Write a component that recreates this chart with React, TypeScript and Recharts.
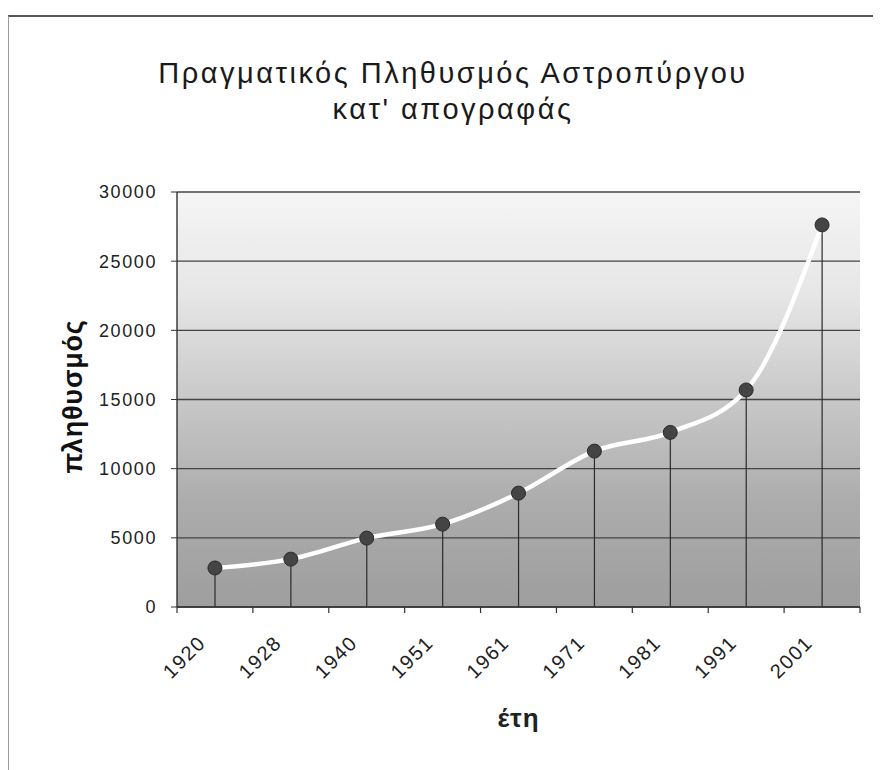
import React from 'react';
import { ComposedChart, Line, Bar, XAxis, YAxis, CartesianGrid, Label } from 'recharts';

const years = ['1920', '1928', '1940', '1951', '1961', '1971', '1981', '1991', '2001'];
const population = [2820, 3460, 4980, 5990, 8230, 11270, 12620, 15690, 27620];
const yTicks = [0, 5000, 10000, 15000, 20000, 25000, 30000];
const titleLines = ['Πραγματικός Πληθυσμός Αστροπύργου', "κατ' απογραφάς"];
const yTitle = 'πληθυσμός';
const xTitle = 'έτη';

const data = years.map((year, i) => ({ year, pop: population[i] }));

const FONT = '"Liberation Sans", Arial, Helvetica, sans-serif';

const DropLine = (props: any) => {
  const { x, y, width, height } = props;
  if (x == null || height == null) return null;
  const cx = x + width / 2;
  return <line x1={cx} x2={cx} y1={y} y2={y + height} stroke="#2b2b2b" strokeWidth={1.2} />;
};

const XTick = (props: any) => {
  const { x, y, payload, index } = props;
  const off = payload && payload.offset ? payload.offset : 38;
  const ax = x - 8;
  const ay = y + 31;
  return (
    <g>
      <line x1={x - off} x2={x - off} y1={y - 6} y2={y} stroke="#333" strokeWidth={1.2} />
      {index === years.length - 1 && (
        <line x1={x + off} x2={x + off} y1={y - 6} y2={y} stroke="#333" strokeWidth={1.2} />
      )}
      <text
        x={ax}
        y={ay}
        transform={`rotate(-45 ${ax} ${ay})`}
        textAnchor="end"
        fontSize={20}
        letterSpacing={1.5}
        fill="#222"
        fontFamily={FONT}
      >
        {payload.value}
      </text>
    </g>
  );
};

export default function App() {
  return (
    <div style={{ position: 'relative', width: 873, height: 762, background: '#fff' }}>
      <div
        style={{
          position: 'absolute',
          top: 7,
          left: 0,
          width: 873,
          height: 755,
          borderTop: '2px solid #555',
          borderLeft: '1px solid #999',
          boxSizing: 'border-box',
        }}
      />
      <ComposedChart
        width={873}
        height={762}
        data={data}
        margin={{ top: 184, right: 21, bottom: 63, left: 79 }}
        style={{ position: 'absolute', top: 0, left: 0 }}
      >
        <defs>
          <linearGradient id="plotBg" x1="0" y1="0" x2="0" y2="1">
            <stop offset="0%" stopColor="#f5f5f5" />
            <stop offset="25%" stopColor="#e6e6e6" />
            <stop offset="50%" stopColor="#c8c8c8" />
            <stop offset="75%" stopColor="#acacac" />
            <stop offset="100%" stopColor="#9e9e9e" />
          </linearGradient>
        </defs>
        <CartesianGrid
          vertical={false}
          fill="url(#plotBg)"
          stroke="#444"
          strokeWidth={1.4}
          fillOpacity={1}
        />
        <XAxis
          dataKey="year"
          interval={0}
          height={100}
          tickSize={6}
          tickMargin={0}
          tickLine={false}
          axisLine={{ stroke: '#333', strokeWidth: 1.4 }}
          tick={<XTick />}
        >
          <Label
            content={(p: any) => {
              const vb = p.viewBox;
              return (
                <text
                  x={vb.x + vb.width / 2}
                  y={vb.y + 120}
                  textAnchor="middle"
                  fontSize={26}
                  fontWeight="bold"
                  letterSpacing={1}
                  fill="#222"
                  fontFamily={FONT}
                >
                  {xTitle}
                </text>
              );
            }}
          />
        </XAxis>
        <YAxis
          type="number"
          domain={[0, 30000]}
          ticks={yTicks}
          interval={0}
          width={90}
          tickSize={6}
          tickMargin={14}
          tickLine={{ stroke: '#333' }}
          axisLine={{ stroke: '#333', strokeWidth: 1.4 }}
          tick={{ fontSize: 18, fill: '#222', fontFamily: FONT, letterSpacing: 1.6 }}
        >
          <Label
            content={(p: any) => {
              const vb = p.viewBox;
              const lx = 74;
              const ly = vb.y + vb.height / 2 - 3;
              return (
                <text
                  x={lx}
                  y={ly}
                  transform={`rotate(-90 ${lx} ${ly})`}
                  textAnchor="middle"
                  fontSize={27}
                  fontWeight="bold"
                  letterSpacing={0.8}
                  fill="#111"
                  fontFamily={FONT}
                >
                  {yTitle}
                </text>
              );
            }}
          />
        </YAxis>
        <Bar dataKey="pop" barSize={4} shape={<DropLine />} isAnimationActive={false} />
        <Line
          dataKey="pop"
          type="monotone"
          stroke="#ffffff"
          strokeWidth={4.5}
          dot={{ r: 7, fill: '#444', stroke: '#2a2a2a', strokeWidth: 1 }}
          activeDot={false}
          isAnimationActive={false}
        />
      </ComposedChart>
      <div
        style={{
          position: 'absolute',
          top: 47,
          left: 0,
          width: 890,
          textAlign: 'center',
          fontFamily: FONT,
          fontSize: 29,
          lineHeight: '36px',
          letterSpacing: 2.5,
          color: '#1a1a1a',
        }}
      >
        {titleLines.map((t) => (
          <div key={t}>{t}</div>
        ))}
      </div>
    </div>
  );
}
